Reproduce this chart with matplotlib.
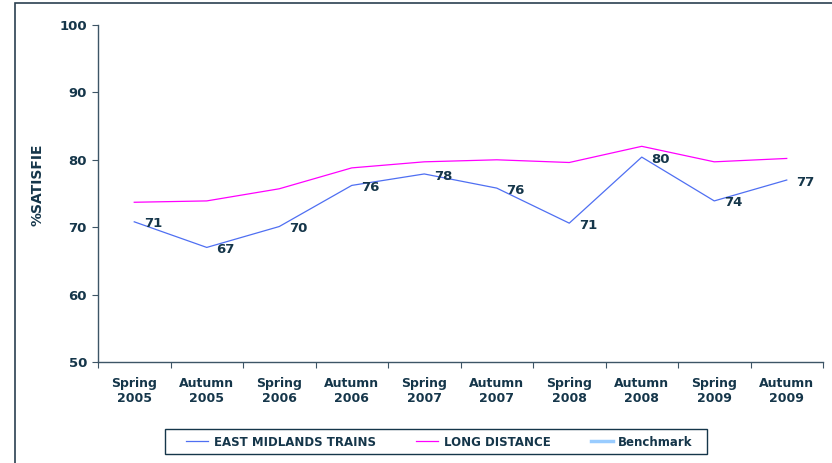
import numpy as np
import matplotlib
matplotlib.use("Agg")
import matplotlib.pyplot as plt
from matplotlib.patches import Rectangle
from matplotlib.ticker import FixedLocator

# data
periods = ["Spring\n2005", "Autumn\n2005", "Spring\n2006", "Autumn\n2006", "Spring\n2007",
           "Autumn\n2007", "Spring\n2008", "Autumn\n2008", "Spring\n2009", "Autumn\n2009"]
east_midlands = [70.8, 67.0, 70.1, 76.2, 77.9, 75.8, 70.6, 80.4, 73.9, 77.0]
east_midlands_labels = [71, 67, 70, 76, 78, 76, 71, 80, 74, 77]
long_distance = [73.7, 73.9, 75.7, 78.8, 79.7, 80.0, 79.6, 82.0, 79.7, 80.2]
benchmark = []  # shown in legend only

navy = "#15364a"
spine_col = "#3d5566"

plt.rcParams['font.family'] = ['DejaVu Sans']
fig = plt.figure(figsize=(8.32, 4.63), dpi=100)

# outer chart border (right/bottom edges fall outside the picture)
fig.patches.append(Rectangle((15 / 832, -0.05), 1.0, 1 - 3 / 463 + 0.05,
                             transform=fig.transFigure, fill=False,
                             edgecolor="#2b4050", linewidth=1.2))

ax = fig.add_axes([98 / 832, 1 - 362 / 463, (823 - 98) / 832, (362 - 25) / 463])
x = np.arange(len(periods))

ax.plot(x, east_midlands, color="#4f6ff2", linewidth=0.9, label="EAST MIDLANDS TRAINS")
ax.plot(x, long_distance, color="#ff00ff", linewidth=0.9, label="LONG DISTANCE")
ax.plot(benchmark, benchmark, color="#99ccff", linewidth=2.5, label="Benchmark")

for xi, yi, lab in zip(x, east_midlands, east_midlands_labels):
    ax.annotate(str(lab), (xi, yi), xytext=(7, -1.5), textcoords="offset points",
                ha="left", va="center", fontsize=9.5, fontweight="bold", color=navy)

ax.set_xlim(-0.5, len(periods) - 0.5)
ax.set_ylim(50, 100)
ax.set_yticks([50, 60, 70, 80, 90, 100])

ax.xaxis.set_major_locator(FixedLocator(np.arange(-0.5, len(periods), 1.0)))
ax.xaxis.set_major_formatter(plt.NullFormatter())
ax.xaxis.set_minor_locator(FixedLocator(x))
ax.set_xticklabels(periods, minor=True)
ax.tick_params(axis="x", which="major", length=4, color=spine_col, direction="out")
ax.tick_params(axis="x", which="minor", length=0, pad=11, labelsize=9,
               labelcolor=navy)
ax.tick_params(axis="y", length=4, color=spine_col, pad=4, labelsize=9.5,
               labelcolor=navy)
for lab in ax.get_xticklabels(minor=True) + ax.get_yticklabels():
    lab.set_fontweight("bold")

for s in ["top", "right"]:
    ax.spines[s].set_visible(False)
for s in ["left", "bottom"]:
    ax.spines[s].set_color(spine_col)
    ax.spines[s].set_linewidth(1.0)

fig.text(38 / 832, 1 - 185 / 463, "%SATISFIE", rotation=90, ha="center", va="center",
         fontsize=10, fontweight="bold", color=navy)

# legend (frame drawn separately to get the wide side padding)
leg = fig.legend(loc="center left", bbox_to_anchor=(186 / 832, 1 - 442 / 463), ncol=3,
                 frameon=False, fontsize=8.5, handlelength=1.9,
                 columnspacing=3.4, borderpad=0, borderaxespad=0, handletextpad=0.45)
for t in leg.get_texts():
    t.set_fontweight("bold")
    t.set_color(navy)
fig.patches.append(Rectangle((165 / 832, 1 - 454 / 463), (707 - 165) / 832, 25 / 463,
                             transform=fig.transFigure, fill=False,
                             edgecolor=navy, linewidth=1.0))

fig.savefig("out.png", dpi=100)
